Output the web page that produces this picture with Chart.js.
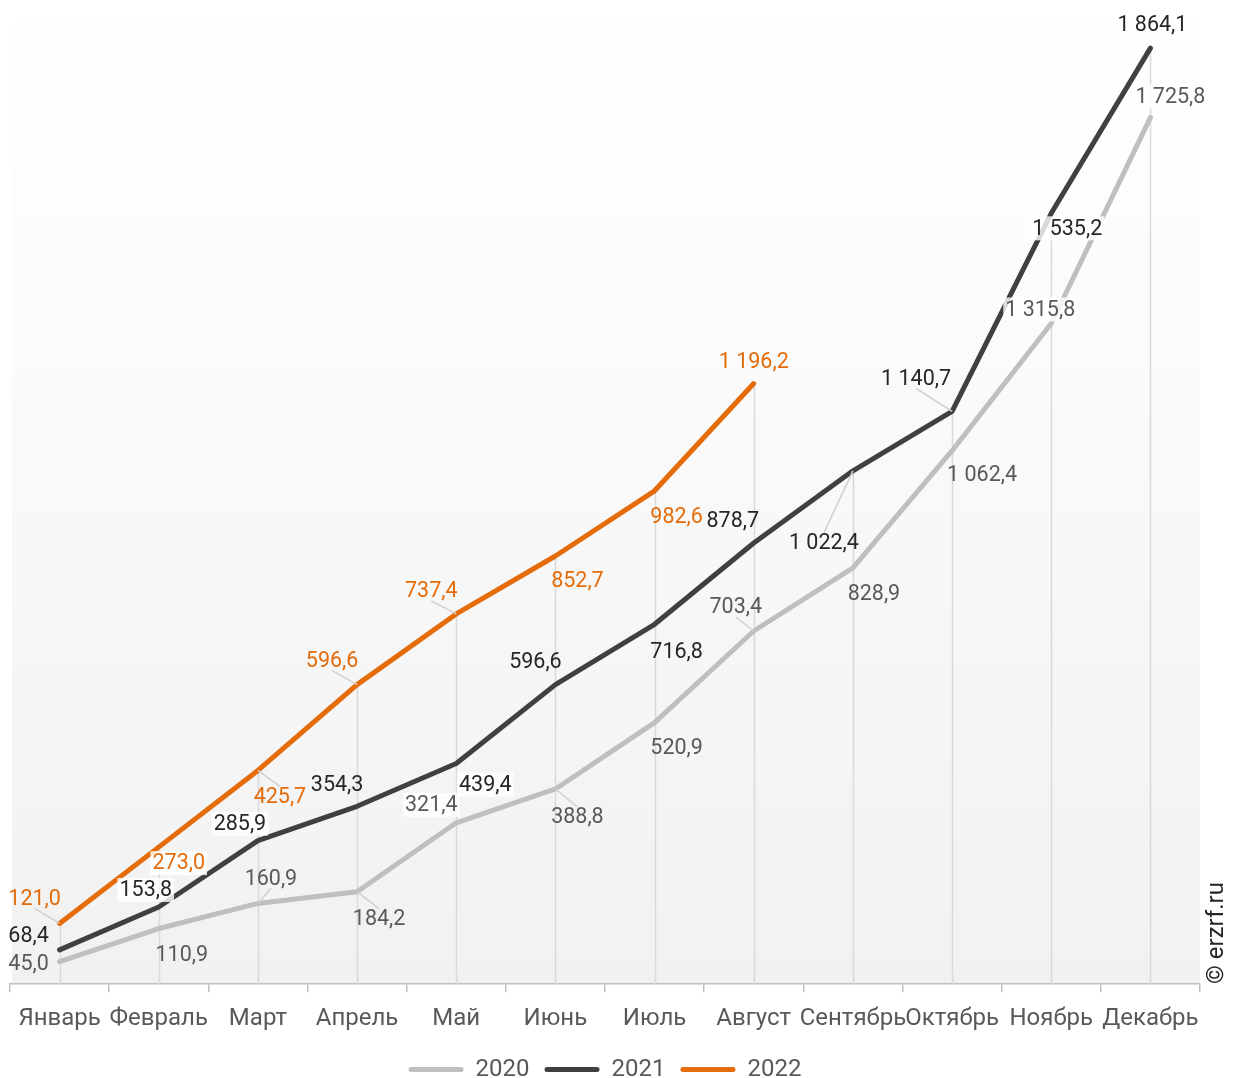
<!DOCTYPE html>
<html>
<head>
<meta charset="utf-8">
<script src="https://cdn.jsdelivr.net/npm/chart.js@4.4.0/dist/chart.umd.min.js"></script>
<style>
html, body { margin: 0; padding: 0; background: #fff; }
#wrap { width: 1237px; height: 1078px; position: relative; }
</style>
</head>
<body>
<div id="wrap"><canvas id="chart"></canvas></div>
<script>
// data
var months = ['Январь', 'Февраль', 'Март', 'Апрель', 'Май', 'Июнь', 'Июль', 'Август', 'Сентябрь', 'Октябрь', 'Ноябрь', 'Декабрь'];
var years = ['2020', '2021', '2022'];
var values2020 = [45.0, 110.9, 160.9, 184.2, 321.4, 388.8, 520.9, 703.4, 828.9, 1062.4, 1315.8, 1725.8];
var values2021 = [68.4, 153.8, 285.9, 354.3, 439.4, 596.6, 716.8, 878.7, 1022.4, 1140.7, 1535.2, 1864.1];
var values2022 = [121.0, 273.0, 425.7, 596.6, 737.4, 852.7, 982.6, 1196.2];

// label placement (pixel offsets from the point), white boxes and leader lines
var labelOffsets = [
    [[-31, 2], [23, 26], [13, -25], [22, 27], [-25, -18], [22, 28], [22, 25], [-18, -24], [21, 26], [30, 24], [-11, -14], [20, -21]],
    [[-31, -14], [-13, -17], [-18, -17], [-20, -22], [29, 21], [-20, -23], [22, 27], [-21, -22], [-29, 72], [-36, -33], [16, 15], [2, -24]],
    [[-25, -25], [20, 16], [22, 26], [-25, -24], [-25, -23], [22, 25], [22, 26], [0, -22]]
];
var boxedLabels = [[4, 10, 11], [1, 2, 4, 10], [1]];
var leaderLabels = [[2, 3, 5, 7], [8, 9], [0, 2, 3, 4]];
var lineColors = ['#bfbfbf', '#404040', '#e46c0a'];
var textColors = ['#595959', '#262626', '#e46c0a'];

function fmt(v) {
    var s = v.toFixed(1).split('.');
    return s[0].replace(/\B(?=(\d{3})+(?!\d))/g, ' ') + ',' + s[1];
}

// plot area gradient
var bgPlugin = {
    id: 'bg',
    afterLayout: function (chart) {
        // legend sits lower than chart.js would put it
        var L = chart.legend;
        var d = 1067 - (L.top + L.height / 2);
        L.top += d;
        L.bottom += d;
    },
    beforeDraw: function (chart) {
        var a = chart.chartArea, c = chart.ctx;
        var g = c.createLinearGradient(0, a.top, 0, a.bottom);
        g.addColorStop(0, '#ffffff');
        g.addColorStop(0.2, '#fdfdfd');
        g.addColorStop(1, '#f1f1f1');
        c.save();
        c.fillStyle = g;
        c.fillRect(a.left + 2, a.top, a.right - a.left - 2, a.bottom - a.top);
        c.restore();
    }
};

// drop lines from the top point of each month to the axis
var dropPlugin = {
    id: 'drops',
    beforeDatasetsDraw: function (chart) {
        var c = chart.ctx, x = chart.scales.x, y = chart.scales.y;
        c.save();
        c.strokeStyle = '#d9d9d9';
        c.lineWidth = 1.5;
        months.forEach(function (m, i) {
            var top = 0;
            [values2020, values2021, values2022].forEach(function (arr) {
                if (arr[i] !== undefined && arr[i] > top) top = arr[i];
            });
            var px = Math.round(x.getPixelForValue(i)) + 0.5;
            c.beginPath();
            c.moveTo(px, y.getPixelForValue(top));
            c.lineTo(px, chart.chartArea.bottom);
            c.stroke();
        });
        c.restore();
    }
};

// data labels with leader lines, and the watermark
var labelPlugin = {
    id: 'labels',
    afterDatasetsDraw: function (chart) {
        var c = chart.ctx;
        c.save();
        c.font = '21.5px Roboto';
        c.textAlign = 'center';
        c.textBaseline = 'middle';
        chart.data.datasets.forEach(function (ds, di) {
            var meta = chart.getDatasetMeta(di);
            meta.data.forEach(function (pt, i) {
                var off = labelOffsets[di][i];
                var txt = fmt(ds.data[i]);
                var w = c.measureText(txt).width + 4, h = 24;
                var lx = pt.x + off[0], ly = pt.y + off[1];
                var l = lx - w / 2, t = ly - h / 2;
                if (leaderLabels[di].indexOf(i) >= 0) {
                    var ay = pt.y < ly ? t + 2 : t + h - 2;
                    c.strokeStyle = '#d0d0d0';
                    c.lineWidth = 1.5;
                    c.beginPath();
                    c.moveTo(lx, ay);
                    c.lineTo(pt.x, pt.y);
                    c.stroke();
                }
                if (boxedLabels[di].indexOf(i) >= 0) {
                    c.fillStyle = 'rgba(255,255,255,0.8)';
                    c.fillRect(l, t, w, h);
                }
                c.fillStyle = textColors[di];
                c.fillText(txt, lx, ly + 1);
            });
        });
        c.translate(1217, 933);
        c.rotate(-Math.PI / 2);
        c.fillStyle = '#262626';
        c.font = '24px Roboto';
        c.fillText('© erzrf.ru', 0, 0);
        c.restore();
    }
};

var ctx = document.getElementById('chart');
new Chart(ctx, {
    type: 'line',
    data: {
        labels: months,
        datasets: [
            { label: years[0], data: values2020, borderColor: lineColors[0], backgroundColor: lineColors[0] },
            { label: years[1], data: values2021, borderColor: lineColors[1], backgroundColor: lineColors[1] },
            { label: years[2], data: values2022, borderColor: lineColors[2], backgroundColor: lineColors[2] }
        ]
    },
    options: {
        responsive: true,
        maintainAspectRatio: false,
        animation: false,
        layout: { padding: { left: 10, right: 37, top: 0, bottom: -16 } },
        elements: {
            line: { borderWidth: 5, tension: 0, borderCapStyle: 'round', borderJoinStyle: 'round' },
            point: { radius: 0, hoverRadius: 0 }
        },
        scales: {
            x: {
                offset: true,
                grid: { offset: true, drawOnChartArea: false, drawTicks: true, tickLength: 8, color: '#bfbfbf', lineWidth: 1.5 },
                border: { color: '#bfbfbf', width: 1.5 },
                ticks: { color: '#595959', font: { family: 'Roboto', size: 24 }, padding: 12, maxRotation: 0, autoSkip: false }
            },
            y: {
                display: false,
                min: 0,
                max: 1960
            }
        },
        plugins: {
            legend: {
                position: 'bottom',
                labels: {
                    color: '#595959',
                    font: { family: 'Roboto', size: 24 },
                    boxWidth: 55,
                    boxHeight: 5,
                    padding: 15,
                    useBorderRadius: true,
                    borderRadius: 2.5,
                    generateLabels: function (chart) {
                        return chart.data.datasets.map(function (ds, i) {
                            return { text: ds.label, fillStyle: ds.borderColor, strokeStyle: ds.borderColor, lineWidth: 0, datasetIndex: i, fontColor: '#595959', borderRadius: 2.5 };
                        });
                    }
                }
            },
            tooltip: { enabled: false }
        }
    },
    plugins: [bgPlugin, dropPlugin, labelPlugin]
});
</script>
</body>
</html>
